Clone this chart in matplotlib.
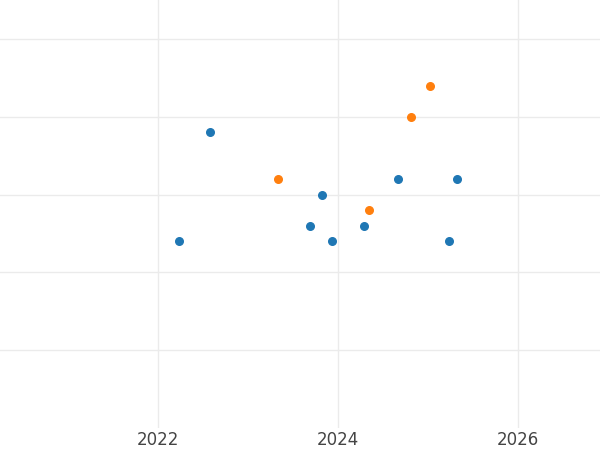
import matplotlib
matplotlib.use('Agg')
import matplotlib.pyplot as plt

# fractional years and values
blue_x = [2022.23, 2022.57, 2023.69, 2023.82, 2023.93, 2024.29, 2024.66, 2025.23, 2025.32]
blue_y = [2.4, 3.8, 2.6, 3.0, 2.4, 2.6, 3.2, 2.4, 3.2]
orange_x = [2023.33, 2024.34, 2024.81, 2025.02]
orange_y = [3.2, 2.8, 4.0, 4.4]

fig = plt.figure(figsize=(6, 4.5), dpi=100)
ax = fig.add_axes([0, 22/450, 1, 428/450])
ax.scatter(blue_x, blue_y, color='#1f77b4', s=30, zorder=3)
ax.scatter(orange_x, orange_y, color='#ff7f0e', s=30, zorder=3)

ax.set_xlim(2020.24, 2026.91)
ax.set_ylim(-0.003, 5.502)
ax.set_xticks([2022, 2024, 2026])
ax.set_yticks([1, 2, 3, 4, 5])
ax.tick_params(axis='y', left=False, labelleft=False)
ax.tick_params(axis='x', length=0, labelsize=12, labelcolor='#444444', pad=2)
ax.grid(True, color='#ebebeb', linewidth=1)
for s in ax.spines.values():
    s.set_visible(False)

fig.savefig('out.png', dpi=100)
